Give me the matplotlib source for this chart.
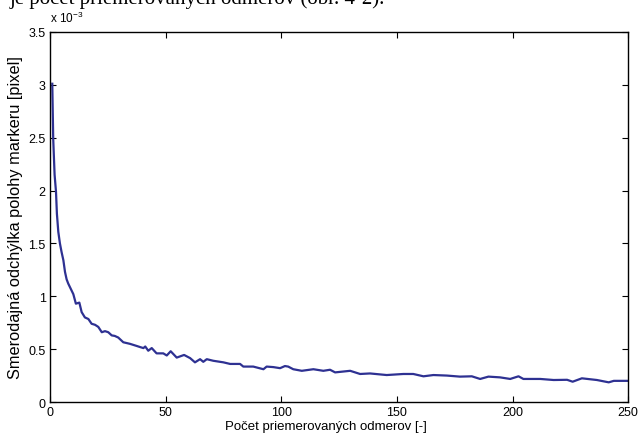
import matplotlib.pyplot as plt

# readings from the picture (values in units of 1e-3 pixel)
n_avg = [1, 1.4, 2, 2.6, 3, 3.6, 4.3, 5, 5.8, 6.5, 7.2, 7.9, 9, 10.1, 11.2, 12.7, 13.7,
         15.1, 16.6, 18, 19.5, 20.9, 22.4, 23.8, 25.2, 26.7, 28, 29.5, 31.7, 34.6, 37.5,
         38.9, 40.4, 41.2, 42.5, 44, 46.1, 49, 50.5, 52.2, 54.8, 58, 60.6, 62.7, 64.9,
         66.3, 67.8, 70.6, 75, 77.9, 82.2, 83.6, 87.9, 92.3, 93.7, 96.6, 99.5, 101.6,
         103, 105.2, 108.9, 113.9, 118.2, 121.1, 123.3, 129.8, 134.1, 138.4, 145.6,
         152.8, 157.1, 161.5, 165.8, 171.6, 177.3, 182.4, 186, 189.6, 194.6, 199,
         202.6, 204.7, 212, 217.8, 223.6, 226, 230, 236.5, 241.6, 243.8, 250]
std_dev = [3.01, 2.49, 2.15, 1.99, 1.78, 1.61, 1.50, 1.42, 1.34, 1.23, 1.16, 1.12, 1.07,
           1.02, 0.93, 0.94, 0.85, 0.80, 0.785, 0.74, 0.73, 0.71, 0.66, 0.67, 0.66, 0.63,
           0.625, 0.61, 0.565, 0.55, 0.53, 0.52, 0.51, 0.525, 0.485, 0.51, 0.46, 0.46,
           0.44, 0.48, 0.42, 0.445, 0.415, 0.375, 0.405, 0.38, 0.405, 0.39, 0.375, 0.36,
           0.36, 0.335, 0.335, 0.31, 0.335, 0.33, 0.32, 0.34, 0.335, 0.31, 0.295, 0.31,
           0.295, 0.305, 0.28, 0.295, 0.265, 0.27, 0.255, 0.265, 0.265, 0.243, 0.255,
           0.25, 0.24, 0.243, 0.218, 0.24, 0.233, 0.218, 0.243, 0.218, 0.218, 0.208,
           0.21, 0.192, 0.224, 0.208, 0.186, 0.2, 0.2]
x_ticks = [0, 50, 100, 150, 200, 250]
y_ticks = [0, 0.5, 1, 1.5, 2, 2.5, 3, 3.5]

plt.rcParams['font.family'] = ['Liberation Sans', 'DejaVu Sans']

fig = plt.figure(figsize=(6.39, 4.39), dpi=100)
ax = fig.add_axes([0.0782, 0.082, 0.9048, 0.843])

ax.plot(n_avg, std_dev, color='#2e3192', linewidth=1.6)

ax.set_xlim(0, 250)
ax.set_ylim(0, 3.5)
ax.set_xticks(x_ticks)
ax.set_yticks(y_ticks)
ax.set_xticklabels([str(t) for t in x_ticks])
ax.set_yticklabels(['0', '0.5', '1', '1.5', '2', '2.5', '3', '3.5'])
ax.tick_params(direction='in', top=True, right=True, labelsize=9, length=4, pad=3)
for s in ax.spines.values():
    s.set_linewidth(1.0)

ax.set_xlabel('Počet priemerovaných odmerov [-]', fontsize=9.5, labelpad=0)
ax.xaxis.set_label_coords(0.478, -0.048)
ax.set_ylabel('Smerodajná odchýlka polohy markeru [pixel]', fontsize=11.8, labelpad=4)

fig.text(50 / 639, 1 - 23 / 439, r'x 10$^{\mathregular{-3}}$', fontsize=8.5, va='baseline')

# piece of the document text cut off above the chart
fig.text(10 / 639, 1 - 4 / 439, 'je počet priemerovaných odmerov (obr. 4-2).',
         fontsize=15, family=['Liberation Serif', 'DejaVu Serif'], va='baseline')

fig.savefig('out.png', dpi=100)
